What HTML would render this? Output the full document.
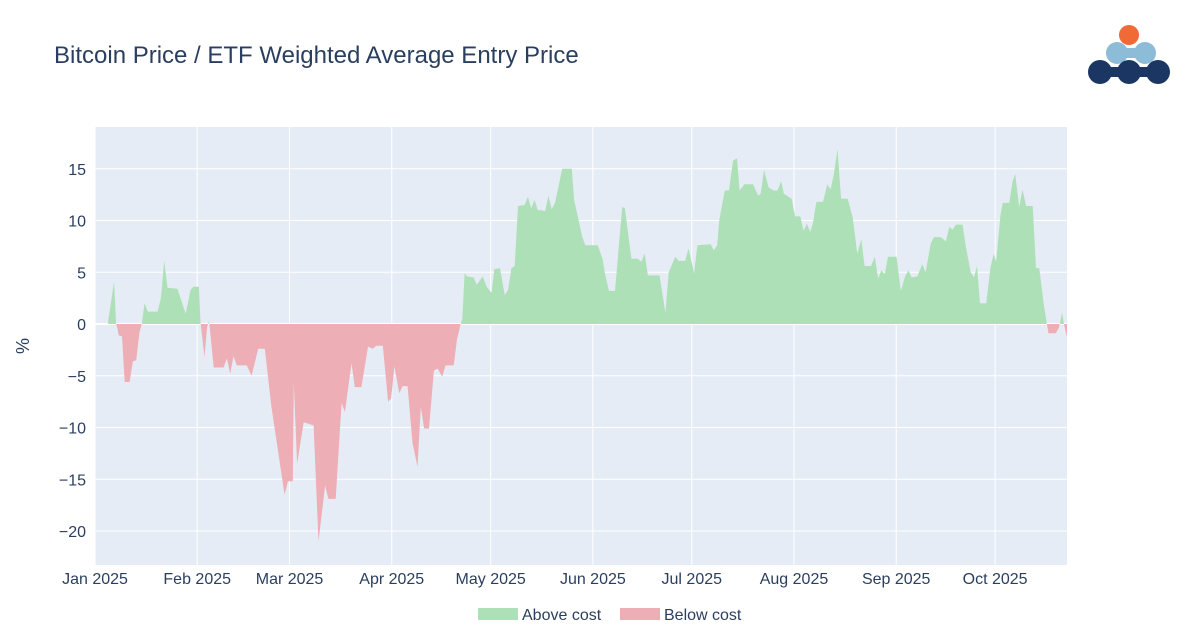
<!DOCTYPE html>
<html><head><meta charset="utf-8"><style>
html,body{margin:0;padding:0;background:#fff;width:1200px;height:634px;overflow:hidden}
svg text{font-family:"Liberation Sans",sans-serif}
</style></head><body>
<svg id="chart" width="1200" height="634" xmlns="http://www.w3.org/2000/svg">
<text x="54" y="63" font-size="24" fill="#2a3f5f">Bitcoin Price / ETF Weighted Average Entry Price</text>
<g>
<circle cx="1129" cy="35" r="10" fill="#f06a35"/>
<rect x="1118" y="48" width="27" height="10" fill="#8cbcd8"/>
<circle cx="1117" cy="53" r="11" fill="#8cbcd8"/><circle cx="1145" cy="53" r="11" fill="#8cbcd8"/>
<rect x="1100" y="67" width="58" height="10" fill="#1c3664"/>
<circle cx="1100" cy="72" r="12" fill="#1c3664"/><circle cx="1129" cy="72" r="12" fill="#1c3664"/><circle cx="1158" cy="72" r="12" fill="#1c3664"/>
</g>
<rect x="95" y="127" width="972" height="438" fill="#e5ecf6"/>
<g id="grid"></g>
<defs><clipPath id="clip"><rect x="95" y="127" width="972" height="438"/></clipPath></defs>
<g id="areas" clip-path="url(#clip)"></g>
<g id="axes"></g>
<text transform="translate(29,346) rotate(-90)" font-size="18" fill="#2a3f5f" text-anchor="middle">%</text>
<g>
<g><rect x="478" y="608" width="40" height="12" fill="#aee0b7"/><text x="522" y="620" font-size="16" fill="#2a3f5f">Above cost</text></g>
<g><rect x="620" y="608" width="40" height="12" fill="#eeaeb5"/><text x="664" y="620" font-size="16" fill="#2a3f5f">Below cost</text></g>
</g>
</svg>
<script>
const days=[4,5.8,6.4,6.8,7.2,8.2,9,10.5,11.5,12.5,13.5,14.2,15,16,19,20,21,22,25,27.5,29,29.8,31.5,32,33.2,34,34.6,35,36,39,40,41,42,43,46,47.5,49.5,51.5,53.5,57.5,58.5,60,60.3,61.3,63.3,66.3,67.8,69.8,70.8,73,74.8,75.8,77.8,78.8,80.8,82.8,84.3,85.3,87.3,88.9,89.8,90.8,92.3,93.3,94.8,96.3,97.8,98.8,99.8,101.3,102.8,103.9,105.3,106.3,108.8,109.8,110.9,111.4,112.1,112.8,114.8,115.8,117.6,118.8,120.3,121.1,122.8,124.3,125.3,126.3,127.3,128.3,130.3,131.3,132.3,133.3,134.3,135.5,136.5,137.5,138.5,139.5,141.7,144.6,145.3,146.7,147.7,148.7,152.5,154,154.7,155.9,157.7,159.9,160.7,162.7,164.7,165.7,166.7,167.7,171.2,173,174,176,177,179,180,181.7,182.7,186.7,187.7,188.7,189.3,191,192.3,193.5,194.7,195.5,197,199.6,201.1,201.9,202.9,204.3,205.8,207,208.1,208.9,211.3,212.3,213.9,214.9,215.9,216.9,217.7,218.8,220.8,222.1,223.1,224.1,225.2,226.3,228.3,229.8,231.2,232.4,233.4,235.4,236.5,237.5,238.5,239.5,240.5,243.1,244.4,245.7,246.7,247.7,249.4,250.9,251.9,253.5,254.5,256.5,258.1,259.1,260.1,261.1,263.1,264.1,265.6,266.6,267.5,268.4,270.3,271.6,272.6,273.3,274.6,275.3,277.3,278.3,279.1,280.3,281.3,282.4,284.4,285.4,286.4,287.7,288.7,289.2,291.4,292.4,293.3,294,294.8];
const values=[0.3,4.1,0,-0.4,-1.1,-1.2,-5.6,-5.6,-3.6,-3.5,-0.8,0,2.0,1.2,1.2,2.5,6.1,3.5,3.4,1.0,3.3,3.6,3.6,0.2,-3.2,-0.3,0.3,-1,-4.2,-4.2,-3.3,-4.8,-3.1,-4.0,-4.0,-5.0,-2.4,-2.4,-8,-16.5,-15.2,-15.2,-5.7,-13.5,-9.5,-9.8,-21,-15.6,-16.9,-16.9,-7.6,-8.5,-3.8,-6.1,-6.1,-2.2,-2.4,-2.1,-2.1,-7.5,-7.2,-4.1,-6.7,-6.0,-6.0,-11.5,-13.8,-8,-10.1,-10.1,-4.5,-4.3,-5.1,-4.0,-4.0,-1.5,0,0.5,4.9,4.6,4.5,3.8,4.6,3.6,3.0,5.3,5.4,2.8,3.3,5.4,5.6,11.4,11.5,12.3,11.2,12.0,11.0,11.0,10.9,12.4,11.1,11.7,15,15,12,10,8.5,7.6,7.6,6.2,4.8,3.2,3.2,11.3,11.2,6.3,6.3,6.0,6.8,4.7,4.7,1.1,5.0,6.5,6.1,6.1,7.3,4.9,7.6,7.7,7.1,7.6,10,12.9,12.9,15.8,16.0,12.9,13.5,13.5,12.4,12.6,14.9,13.2,12.9,12.9,13.8,12.6,12.1,10.4,10.4,9.0,9.7,8.9,9.7,11.8,11.8,13.5,13.0,14.5,16.9,12.1,12.1,10.3,6.8,8.2,5.6,5.6,6.5,4.4,5.2,4.8,6.5,6.5,3.2,4.6,5.2,4.5,4.6,5.8,5.0,7.8,8.4,8.4,8.0,9.4,9.1,9.6,9.6,7.5,5.0,4.5,5.6,2.0,2.0,5.5,6.8,6.0,10.5,11.7,11.7,13.8,14.5,11.3,13.0,11.4,11.4,5.4,5.4,2.0,0,-0.9,-0.9,-0.3,1.1,-0.2,-1.3];
const yTicks=[15,10,5,0,-5,-10,-15,-20];
const yTickLabels=["15","10","5","0","−5","−10","−15","−20"];
const xTickDays=[0,31,59,90,120,151,181,212,243,273];
const xTickLabels=["Jan 2025","Feb 2025","Mar 2025","Apr 2025","May 2025","Jun 2025","Jul 2025","Aug 2025","Sep 2025","Oct 2025"];

const NS="http://www.w3.org/2000/svg";
const X0=95,X1=1067,D0=0,D1=294.8,Y0=324,PXU=10.35;
function xs(d){return X0+(d-D0)/(D1-D0)*(X1-X0);}
function ys(v){return Y0-v*PXU;}
function mk(tag,attrs,parent){const e=document.createElementNS(NS,tag);for(const k in attrs)e.setAttribute(k,attrs[k]);parent.appendChild(e);return e;}
const grid=document.getElementById('grid'),axes=document.getElementById('axes'),areas=document.getElementById('areas');
yTicks.forEach((t,i)=>{
  const l=mk('line',{x1:95,x2:1067,y1:ys(t),y2:ys(t),stroke:'#fff','stroke-width':t===0?2:1},grid);
  
  
  const tx=mk('text',{x:86,y:ys(t)+6,'font-size':16,fill:'#2a3f5f','text-anchor':'end'},axes);
  tx.textContent=yTickLabels[i];
  
  
});
xTickDays.forEach((d,i)=>{
  const l=mk('line',{x1:xs(d),x2:xs(d),y1:127,y2:565,stroke:'#fff','stroke-width':1},grid);
  
  
  const tx=mk('text',{x:xs(d),y:584,'font-size':16,fill:'#2a3f5f','text-anchor':'middle'},axes);
  tx.textContent=xTickLabels[i];
  
  
});
function build(sign){
  let pts=[[xs(days[0]),ys(0)]];
  for(let i=0;i<days.length;i++){
    if(i>0){const a=values[i-1],b=values[i];
      if((a>0&&b<0)||(a<0&&b>0)){const t=a/(a-b);pts.push([xs(days[i-1]+t*(days[i]-days[i-1])),ys(0)]);}}
    const v=sign>0?Math.max(values[i],0):Math.min(values[i],0);
    pts.push([xs(days[i]),ys(v)]);
  }
  pts.push([xs(days[days.length-1]),ys(0)]);
  return pts.map(p=>p[0].toFixed(1)+','+p[1].toFixed(1)).join(' ');
}
const pos=mk('polygon',{points:build(1),fill:'#aee0b7'},areas);


const neg=mk('polygon',{points:build(-1),fill:'#eeaeb5'},areas);


</script>
</body></html>
